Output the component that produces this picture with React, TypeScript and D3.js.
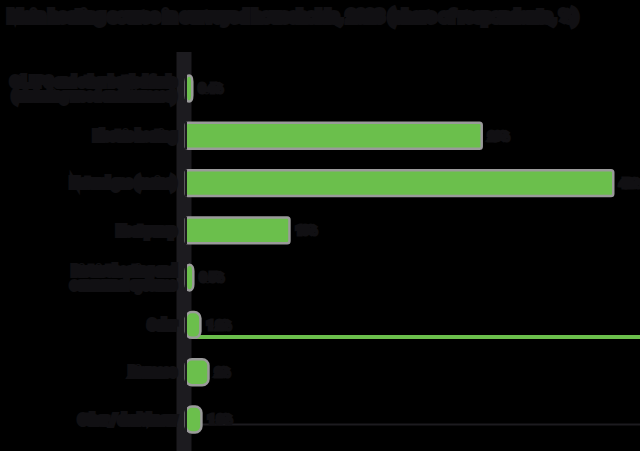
import { useEffect } from "react"
import * as d3 from "d3"

const title = "Main heating source in surveyed households, 2023 (share of respondents, %)"

const categories = [
  "Oil, LPG and other bottled fuels|(excluding wood and biomass)",
  "Electric heating",
  "Natural gas (mains)",
  "Heat pump",
  "District heating and|communal systems",
  "Solar",
  "Biomass",
  "Other / don't know",
]
const values = [0.4, 29, 42, 10, 0.5, 1.2, 2, 1.3]
const valueLabels = ["0.4%", "29%", "42%", "10%", "0.5%", "1.2%", "2%", "1.3%"]

const width = 640
const height = 451
const green = "#6bbf4c"
const ink = "#1c1b1f"
const textInk = "#111013"

export default function App() {
  useEffect(() => {
    document.body.style.margin = "0"
    document.body.style.background = "#000"
  }, [])

  const y = d3.scaleBand().domain(categories).range([55, 453]).padding(0.42)
  const x = d3.scaleLinear().domain([0, 42]).range([187, 612])
  const rows = categories.map((c, i) => ({ c, v: values[i], label: valueLabels[i] }))
  const row6 = y(categories[5])! + y.bandwidth() / 2
  const row8 = y(categories[7])! + y.bandwidth() / 2

  return (
    <svg width={width} height={height} style={{ display: "block", background: "#000" }} fontFamily="Roboto, sans-serif">
      <text x={8} y={22} fontSize={16.5} fontWeight={700} fill={textInk} stroke={textInk} strokeWidth={6} paintOrder="stroke">
        {title}
      </text>
      {/* axis band */}
      <line x1={x(0) - 3} x2={x(0) - 3} y1={52} y2={height} stroke={ink} strokeWidth={15} />
      {/* guide lines */}
      <line x1={x(0) + 6} x2={width} y1={row6 + 12} y2={row6 + 12} stroke={green} strokeWidth={4} />
      <line x1={x(0) + 12} x2={width} y1={row8 + 5} y2={row8 + 5} stroke={ink} strokeWidth={2} />
      {rows.map((d) => {
        const by = y(d.c)!
        const bw = Math.max(x(d.v) - x(0), 3)
        const lines = d.c.split("|")
        const cy = by + y.bandwidth() / 2
        return (
          <g key={d.c}>
            <rect
              x={x(0)}
              y={by + 2}
              width={bw}
              height={y.bandwidth() - 4}
              rx={bw < 25 ? 5 : 1}
              fill={green}
              stroke="#9a9a9a"
              strokeWidth={5}
              paintOrder="stroke"
            />
            <line x1={x(0) - 1} x2={x(0) - 1} y1={by} y2={by + y.bandwidth()} stroke={ink} strokeWidth={2} />
            <text
              x={x(0) + bw + 8}
              y={cy}
              dy="0.35em"
              fontSize={11}
              fill={textInk}
              stroke={textInk}
              strokeWidth={5}
              paintOrder="stroke"
            >
              {d.label}
            </text>
            <text
              x={176}
              y={cy - (lines.length - 1) * 7}
              textAnchor="end"
              fontSize={12}
              fill={textInk}
              stroke={textInk}
              strokeWidth={6}
              paintOrder="stroke"
            >
              {lines.map((l, j) => (
                <tspan key={j} x={176} dy={j === 0 ? "0.35em" : 14}>
                  {l}
                </tspan>
              ))}
            </text>
          </g>
        )
      })}
    </svg>
  )
}
